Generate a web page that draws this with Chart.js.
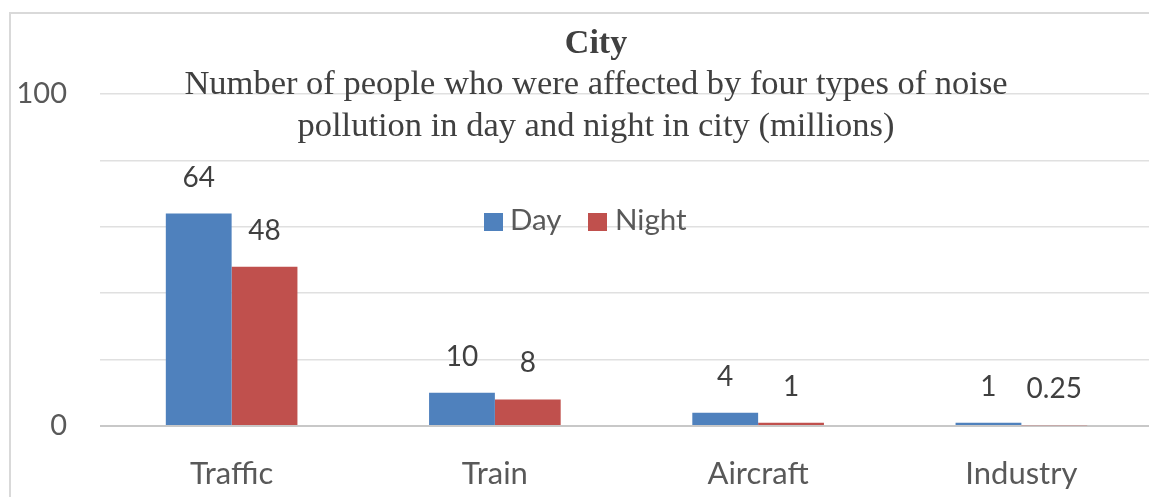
<!DOCTYPE html>
<html>
<head>
<meta charset="utf-8">
<script src="https://cdn.jsdelivr.net/npm/chart.js@4.4.1/dist/chart.umd.min.js"></script>
<style>
  html, body { margin: 0; padding: 0; background: #fff; overflow: hidden; }
  #wrap { width: 1153px; height: 497px; }
</style>
</head>
<body>
<div id="wrap"><canvas id="cityChart" width="1153" height="497"></canvas></div>
<script>
  var categories = ["Traffic", "Train", "Aircraft", "Industry"];
  var dayValues = [64, 10, 4, 1];
  var nightValues = [48, 8, 1, 0.25];
  var nightLabels = ["48", "8", "1", "0.25"];
  var seriesNames = ["Day", "Night"];
  var seriesColors = ["#4F81BD", "#C0504D"];
  var yTickLabels = [0, 100];
  var titleText = "City";
  var subtitleLines = [
    "Number of people who were affected by four types of noise",
    "pollution in day and night in city (millions)"
  ];

  var sansFont = "Lato, 'Liberation Sans', sans-serif";
  var serifFont = "'Liberation Serif', 'DejaVu Serif', serif";

  // frame, titles, legend and value labels drawn by hand
  var decorations = {
    id: "decorations",
    beforeDraw: function (chart) {
      var ctx = chart.ctx;
      ctx.save();
      ctx.strokeStyle = "#d9d9d9";
      ctx.lineWidth = 2;
      ctx.beginPath();
      ctx.moveTo(10, 497);
      ctx.lineTo(10, 13);
      ctx.lineTo(1153, 13);
      ctx.stroke();
      ctx.restore();
    },
    afterDatasetsDraw: function (chart) {
      var ctx = chart.ctx;
      ctx.save();
      ctx.font = "28px " + sansFont;
      ctx.fillStyle = "#404040";
      ctx.textAlign = "center";
      ctx.textBaseline = "alphabetic";
      chart.data.datasets.forEach(function (ds, di) {
        var meta = chart.getDatasetMeta(di);
        meta.data.forEach(function (bar, i) {
          ctx.fillText(ds.valueLabels[i], bar.x, bar.y - 27);
        });
      });
      ctx.restore();
    },
    afterDraw: function (chart) {
      var ctx = chart.ctx;
      var cx = 596;
      ctx.save();
      ctx.fillStyle = "#404040";
      ctx.textAlign = "center";
      ctx.textBaseline = "alphabetic";
      ctx.font = "bold 34px " + serifFont;
      ctx.fillText(titleText, cx, 53);
      ctx.font = "34.5px " + serifFont;
      ctx.fillText(subtitleLines[0], cx, 94);
      ctx.fillText(subtitleLines[1], cx, 136);

      // legend
      ctx.textAlign = "left";
      ctx.font = "29.5px " + sansFont;
      ctx.fillStyle = seriesColors[0];
      ctx.fillRect(484, 213, 19, 18);
      ctx.fillStyle = "#595959";
      ctx.fillText(seriesNames[0], 510, 230);
      ctx.fillStyle = seriesColors[1];
      ctx.fillRect(588, 213, 19, 18);
      ctx.fillStyle = "#595959";
      ctx.fillText(seriesNames[1], 615, 230);
      ctx.restore();
    }
  };

  new Chart(document.getElementById("cityChart").getContext("2d"), {
    type: "bar",
    data: {
      labels: categories,
      datasets: [{
        label: seriesNames[0],
        data: dayValues,
        valueLabels: dayValues.map(String),
        backgroundColor: seriesColors[0]
      }, {
        label: seriesNames[1],
        data: nightValues,
        valueLabels: nightLabels,
        backgroundColor: seriesColors[1]
      }]
    },
    options: {
      responsive: false,
      animation: false,
      layout: { padding: { top: 94, left: 0, right: 0, bottom: 0 } },
      datasets: { bar: { categoryPercentage: 0.5, barPercentage: 1.0 } },
      scales: {
        x: {
          grid: { display: false },
          border: { display: false },
          ticks: { font: { family: sansFont, size: 31 }, color: "#595959", padding: 21 },
          afterFit: function (scale) { scale.height = 71; }
        },
        y: {
          min: 0,
          max: 100,
          border: { display: false },
          grid: {
            drawTicks: false,
            color: function (c) { return c.tick && c.tick.value === 0 ? "#c8c8c8" : "#e0e0e0"; },
            lineWidth: function (c) { return c.tick && c.tick.value === 0 ? 2 : 1.5; }
          },
          ticks: {
            stepSize: 20,
            padding: 33,
            font: { family: sansFont, size: 29 },
            color: "#595959",
            callback: function (v) { return yTickLabels.indexOf(v) >= 0 ? String(v) : ""; }
          },
          afterFit: function (scale) { scale.width = 100; }
        }
      },
      plugins: {
        legend: { display: false },
        title: { display: false },
        tooltip: { enabled: false }
      }
    },
    plugins: [decorations]
  });
</script>
</body>
</html>
